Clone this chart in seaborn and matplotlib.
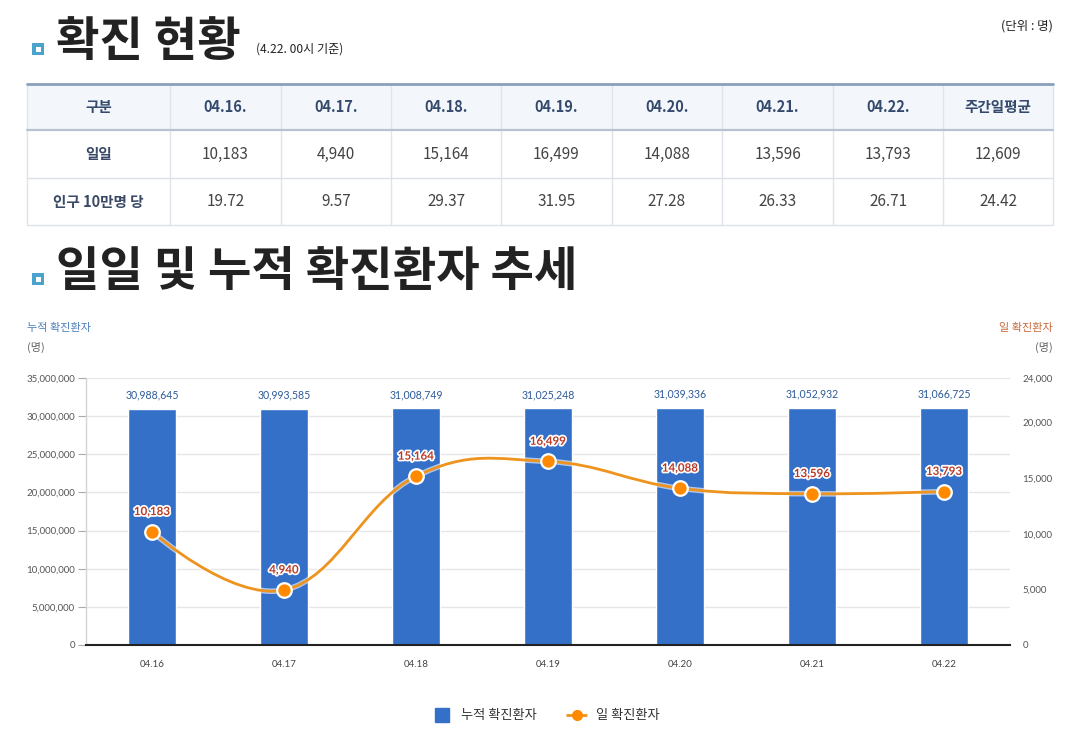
import numpy as np
import pandas as pd
import matplotlib
matplotlib.use("Agg")
import matplotlib.pyplot as plt
import seaborn as sns
from matplotlib.patches import Rectangle, PathPatch
from matplotlib.path import Path
from matplotlib.lines import Line2D
import matplotlib.patheffects as pe
from matplotlib.ticker import FuncFormatter

# ---------------- data ----------------
dates = ["04.16", "04.17", "04.18", "04.19", "04.20", "04.21", "04.22"]
cumulative = [30988645, 30993585, 31008749, 31025248, 31039336, 31052932, 31066725]
daily = [10183, 4940, 15164, 16499, 14088, 13596, 13793]
per_100k = [19.72, 9.57, 29.37, 31.95, 27.28, 26.33, 26.71]
weekly_avg_daily = 12609
weekly_avg_per_100k = 24.42
table_header = ["구분"] + [d + "." for d in dates] + ["주간일평균"]
row_labels = ["일일", "인구 10만명 당"]
left_ticks = [0, 5000000, 10000000, 15000000, 20000000, 25000000, 30000000, 35000000]
right_ticks = [0, 5000, 10000, 15000, 20000, 24000]

# ---------------- style ----------------
sns.set_theme(style="white")
plt.rcParams['font.family'] = ['Noto Sans CJK KR', 'DejaVu Sans']
KR = ['Noto Sans CJK KR', 'DejaVu Sans']
NUM = ['Lato', 'DejaVu Sans']

BAR = "#3470c8"
ORANGE = "#ee931d"
MARK = "#ff8a00"

fig = plt.figure(figsize=(10.8, 7.4), dpi=100)
fig.patch.set_facecolor("white")

# decoration layer in pixel coordinates
deco = fig.add_axes([0, 0, 1, 1], zorder=0)
deco.set_xlim(0, 1080)
deco.set_ylim(740, 0)
deco.axis("off")

def icon(x, y, s=12):
    deco.add_patch(Rectangle((x, y), s, s, facecolor="#4aa3cc", edgecolor="none"))
    deco.add_patch(Rectangle((x + 3.5, y + 3.5), s - 7, s - 7, facecolor="white", edgecolor="none"))

icon(32, 43)
deco.text(56, 56, "확진 현황", fontsize=34, fontweight="bold", color="#222",
          va="baseline", ha="left", family=KR)
deco.text(256, 53, "(4.22. 00시 기준)", fontsize=8.7, color="#222", va="baseline", family=KR)
deco.text(1053, 26, "(단위 : 명)", fontsize=9, color="#222", va="center", ha="right", family=KR)

# ---------------- table ----------------
col_x = [27, 170, 281, 391, 501, 612, 722, 833, 943, 1053]
row_y = [84, 130, 178, 225]
deco.add_patch(Rectangle((col_x[0], row_y[0]), col_x[-1] - col_x[0], row_y[1] - row_y[0],
                         facecolor="#f3f7fc", edgecolor="none"))
for xv in col_x:
    deco.plot([xv, xv], [row_y[0], row_y[-1]], color="#e0e4ea", lw=1, solid_capstyle="butt")
for yv in row_y[2:]:
    deco.plot([col_x[0], col_x[-1]], [yv, yv], color="#dde1e7", lw=1)
deco.plot([col_x[0], col_x[-1]], [row_y[1], row_y[1]], color="#b7c3d3", lw=1.6)
deco.plot([col_x[0], col_x[-1]], [row_y[0], row_y[0]], color="#8a9fbb", lw=2)

row_values = [
    [f"{v:,}" for v in daily] + [f"{weekly_avg_daily:,}"],
    [f"{v:.2f}" for v in per_100k] + [f"{weekly_avg_per_100k:.2f}"],
]
for j, h in enumerate(table_header):
    cx = (col_x[j] + col_x[j + 1]) / 2
    deco.text(cx, (row_y[0] + row_y[1]) / 2, h, ha="center", va="center", fontsize=10.5,
              fontweight="bold", color="#34496b", family=KR)
for r, (lab, vals) in enumerate(zip(row_labels, row_values)):
    cy = (row_y[r + 1] + row_y[r + 2]) / 2
    deco.text((col_x[0] + col_x[1]) / 2, cy, lab, ha="center", va="center", fontsize=10.5,
              fontweight="bold", color="#3a4a66", family=KR)
    for j, v in enumerate(vals):
        cx = (col_x[j + 1] + col_x[j + 2]) / 2
        deco.text(cx, cy, v, ha="center", va="center", fontsize=11, color="#444", family=KR)

# second title
icon(32, 273)
deco.text(56, 286, "일일 및 누적 확진환자 추세", fontsize=34, fontweight="bold",
          color="#222", va="baseline", ha="left", family=KR)

# axis titles
deco.text(27, 328, "누적 확진환자", fontsize=8, color="#4f7fb8", va="center", family=KR)
deco.text(27, 347, "(명)", fontsize=8, color="#666", va="center", family=KR)
deco.text(1053, 328, "일 확진환자", fontsize=8, color="#c8683a", va="center", ha="right", family=KR)
deco.text(1053, 347, "(명)", fontsize=8, color="#666", va="center", ha="right", family=KR)

# ---------------- chart ----------------
ax = fig.add_axes([86 / 1080, (740 - 645) / 740, 924 / 1080, 267 / 740], zorder=2)
ax.patch.set_alpha(0)
df = pd.DataFrame({"date": dates, "cumulative": cumulative, "daily": daily})
sns.barplot(data=df, x="date", y="cumulative", color=BAR, saturation=1, width=0.36, ax=ax, zorder=2)
ax.set_xlim(-0.5, len(dates) - 0.5)
ax.set_ylim(0, left_ticks[-1])
ax.set_yticks(left_ticks)
ax.yaxis.set_major_formatter(FuncFormatter(lambda v, p: f"{int(v):,}"))
ax.set_xlabel("")
ax.set_ylabel("")
ax.grid(axis="y", color="#e6e6e6", lw=1)
ax.set_axisbelow(True)
for s in ["top", "right"]:
    ax.spines[s].set_visible(False)
ax.spines["left"].set_color("#d4d4d4")
ax.spines["left"].set_linewidth(1)
ax.spines["bottom"].set_color("#222")
ax.spines["bottom"].set_linewidth(1.5)
ax.tick_params(axis="y", left=True, length=6, width=0.8, color="#aaa", pad=2, labelsize=7, labelcolor="#555")
ax.tick_params(axis="x", bottom=False, pad=5, labelsize=7, labelcolor="#444")
for lbl in ax.get_yticklabels() + ax.get_xticklabels():
    lbl.set_family(NUM)

for i, v in enumerate(cumulative):
    ax.annotate(f"{v:,}", (i, v), xytext=(0, 10), textcoords="offset points", ha="center",
                va="center", fontsize=7.6, color="#2d5a96", family=NUM, zorder=4)

ax2 = ax.twinx()
ax2.set_zorder(3)
ax2.set_ylim(0, right_ticks[-1])
ax2.set_yticks(right_ticks)
ax2.yaxis.set_major_formatter(FuncFormatter(lambda v, p: f"{int(v):,}"))
for s in ax2.spines.values():
    s.set_visible(False)
ax2.tick_params(axis="y", right=True, length=0, pad=9, labelsize=7, labelcolor="#555")
for lbl in ax2.get_yticklabels():
    lbl.set_family(NUM)

# Highcharts-style spline through daily values
xs = np.arange(len(dates), dtype=float)
ys = np.array(daily, dtype=float)

def spline_path(xs, ys, smoothing=1.5):
    n = len(xs)
    left = [None] * n
    right = [None] * n
    for i in range(1, n - 1):
        d = smoothing + 1
        lx = (smoothing * xs[i] + xs[i - 1]) / d
        ly = (smoothing * ys[i] + ys[i - 1]) / d
        rx = (smoothing * xs[i] + xs[i + 1]) / d
        ry = (smoothing * ys[i] + ys[i + 1]) / d
        corr = (ry - ly) * (rx - xs[i]) / (rx - lx) + ys[i] - ry
        left[i] = (lx, ly + corr)
        right[i] = (rx, ry + corr)
    verts = [(xs[0], ys[0])]
    codes = [Path.MOVETO]
    for i in range(1, n):
        c1 = right[i - 1] if right[i - 1] is not None else (xs[i - 1], ys[i - 1])
        c2 = left[i] if left[i] is not None else (xs[i], ys[i])
        verts += [c1, c2, (xs[i], ys[i])]
        codes += [Path.CURVE4] * 3
    return Path(verts, codes)

curve = PathPatch(spline_path(xs, ys), facecolor="none", edgecolor=ORANGE, lw=2,
                  transform=ax2.transData, zorder=3,
                  path_effects=[pe.Stroke(linewidth=4, foreground="white", alpha=0.6), pe.Normal()])
ax2.add_patch(curve)
sns.scatterplot(x=xs, y=ys, ax=ax2, s=110, color=MARK, edgecolor="white", linewidth=1.6, zorder=5, legend=False)
ax2.set_xlim(-0.5, len(dates) - 0.5)

for i, v in enumerate(daily):
    ax2.annotate(f"{v:,}", (i, v), xytext=(0, 14.5), textcoords="offset points", ha="center",
                 va="center", fontsize=8.3, fontweight="bold", color="#b93a26", family=NUM, zorder=6,
                 path_effects=[pe.withStroke(linewidth=2.5, foreground="white")])

# legend
handles = [
    Line2D([], [], marker="s", ls="none", color=BAR, markersize=10),
    Line2D([], [], marker="o", color=ORANGE, lw=2, ls="--", dashes=(3, 1.5), markersize=7,
           markerfacecolor=MARK, markeredgecolor=MARK),
]
leg = fig.legend(handles, ["누적 확진환자", "일 확진환자"], loc="center",
                 bbox_to_anchor=(545 / 1080, 1 - 716 / 740), ncol=2, frameon=False,
                 fontsize=9.5, handlelength=1.8, columnspacing=2.2, handletextpad=0.5)
for t in leg.get_texts():
    t.set_color("#333")

fig.savefig("out.png", dpi=100)
